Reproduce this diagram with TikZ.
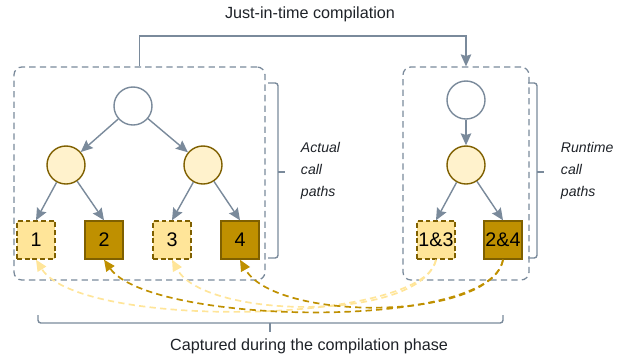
\documentclass[tikz,border=0pt]{standalone}
\usepackage{fontspec}
\setmainfont{Liberation Sans}
\usetikzlibrary{arrows.meta,positioning}
\definecolor{edgegray}{RGB}{122,138,155}
\definecolor{goldfill}{RGB}{191,144,0}
\definecolor{golddraw}{RGB}{127,96,0}
\definecolor{lightgold}{RGB}{255,229,153}
\definecolor{palegold}{RGB}{255,242,204}
\definecolor{textdark}{RGB}{30,34,40}

\begin{document}
\begin{tikzpicture}[
    x=0.025cm, y=-0.025cm,
    root/.style={circle, draw=edgegray, fill=white, line width=1pt, minimum size=0.95cm, inner sep=0pt},
    inner/.style={circle, draw=golddraw, fill=palegold, line width=1pt, minimum size=0.95cm, inner sep=0pt},
    leaf/.style={rectangle, draw=golddraw, line width=1pt, minimum size=0.95cm, inner sep=0pt, text=black, font=\fontsize{14}{16}\selectfont},
    litleaf/.style={leaf, fill=lightgold, dash pattern=on 3.5pt off 2pt},
    darkleaf/.style={leaf, fill=goldfill},
    group/.style={rectangle, rounded corners=0.2cm, draw=edgegray, dash pattern=on 4.5pt off 3pt, line width=0.9pt},
    arrow/.style={-{Stealth[length=8.5pt,width=7.5pt,inset=1.2pt]}, draw=edgegray, line width=1pt},
    capture/.style={dash pattern=on 4.5pt off 3pt, line width=1.2pt, -{Triangle[length=8pt,width=7pt]}},
    bracket/.style={draw=edgegray, line width=1pt, rounded corners=2pt},
    note/.style={font=\fontsize{10}{15.5}\selectfont\itshape, align=left, anchor=west, text=textdark},
    caption/.style={font=\fontsize{11.5}{14}\selectfont, text=textdark}
]
\useasboundingbox (0,0) rectangle (619,357);

% Groups
\node[group, minimum width=6.275cm, minimum height=5.325cm] (lbox) at (139.5,173.5) {};
\node[group, minimum width=3.15cm, minimum height=5.325cm] (rbox) at (466,173.5) {};

% Actual call tree
\node[root] (lroot) at (133,106) {};
\node[inner] (lmid1) at (66,165) {};
\node[inner] (lmid2) at (203,165) {};
\node[litleaf] (l1) at (36,240) {1};
\node[darkleaf] (l2) at (104,240) {2};
\node[litleaf] (l3) at (172,240) {3};
\node[darkleaf] (l4) at (240,240) {4};

% Runtime call tree
\node[root] (rroot) at (466,100) {};
\node[inner] (rmid) at (466,165) {};
\node[litleaf] (r13) at (436,240) {1\&3};
\node[darkleaf] (r24) at (503,240) {2\&4};

% Tree edges
\draw[arrow] (lroot) -- (lmid1);
\draw[arrow] (lroot) -- (lmid2);
\draw[arrow] (lmid1) -- (l1.north);
\draw[arrow] (lmid1) -- (l2.north);
\draw[arrow] (lmid2) -- (l3.north);
\draw[arrow] (lmid2) -- (l4.north);
\draw[arrow] (rroot) -- (rmid);
\draw[arrow] (rmid) -- (r13.north);
\draw[arrow] (rmid) -- (r24.north);

% Just-in-time compilation
\coordinate (jit) at (310,36);
\node[caption] (jitlabel) at (310,14) {Just-in-time compilation};
\draw[arrow] (lbox.north) |- (jit) -| (rbox.north);

% Brackets and notes
\draw[bracket] (268,83) -- (278,83) -- (278,258) -- (268,258);
\draw[bracket] (278,172) -- (285,172);
\node[note] (actual) at (296,171) {Actual\\call\\paths};
\draw[bracket] (528,83) -- (537,83) -- (537,258) -- (528,258);
\draw[bracket] (537,172) -- (544,172);
\node[note] (runtime) at (556,171) {Runtime\\call\\paths};
\draw[bracket] (38,315) |- (503,323) -- (503,315);
\draw[bracket] (270,323) -- (270,332);
\node[caption] (captured) at (309,346) {Captured during the compilation phase};

% Captured call paths
\draw[capture, lightgold] (r13.south) .. controls (425,325) and (80,330) .. (l1.south);
\draw[capture, lightgold] (r13.south) .. controls (420,322) and (205,320) .. (l3.south);
\draw[capture, goldfill] (r24.south) .. controls (492,332) and (150,325) .. (l2.south);
\draw[capture, goldfill] (r24.south) .. controls (490,322) and (275,322) .. (l4.south);

\end{tikzpicture}
\end{document}
